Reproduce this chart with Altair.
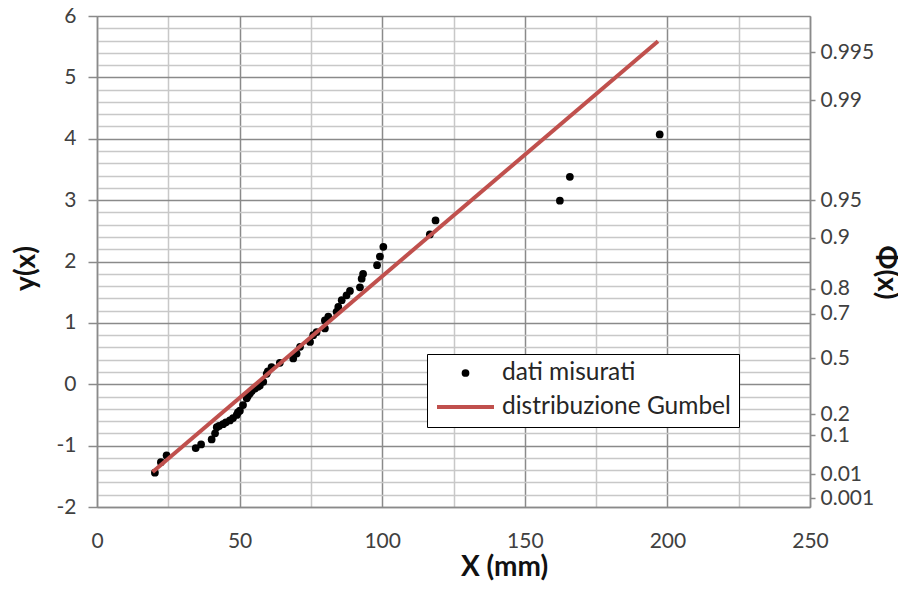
import altair as alt
import pandas as pd

# ---- data ----
x_mis = [20.3, 22.4, 24.4, 34.6, 36.5, 40.2, 41.4, 42.0, 42.8, 44.2, 45.2, 46.6, 47.7, 49.0,
         49.4, 50.1, 51.2, 52.5, 52.9, 53.6, 54.3, 55.4, 56.4, 57.1, 58.3, 59.5, 59.9, 61.2,
         64.1, 68.8, 70.0, 71.2, 74.7, 75.8, 77.0, 79.9, 79.9, 81.1, 84.0, 84.6, 85.8, 87.5,
         88.7, 92.2, 92.8, 93.3, 98.2, 99.2, 100.4, 116.7, 118.7, 162.3, 165.8, 197.3]
y_mis = [-1.44, -1.27, -1.16, -1.04, -0.98, -0.90, -0.80, -0.70, -0.68, -0.65, -0.62, -0.59,
         -0.55, -0.50, -0.46, -0.43, -0.34, -0.23, -0.19, -0.15, -0.11, -0.07, -0.04, -0.02,
         0.04, 0.17, 0.21, 0.28, 0.35, 0.42, 0.50, 0.61, 0.69, 0.80, 0.85, 0.91, 1.04, 1.10,
         1.18, 1.26, 1.37, 1.45, 1.52, 1.58, 1.72, 1.80, 1.94, 2.08, 2.24, 2.44, 2.67, 2.99,
         3.38, 4.07]

x_gum = [19.5, 196.7]
y_gum = [-1.43, 5.59]

series = ["dati misurati", "distribuzione Gumbel"]
series_colors = ["#000000", "#C0504D"]

x_ticks = [0, 25, 50, 75, 100, 125, 150, 175, 200, 225, 250]
y_ticks = [round(-2 + 0.2 * i, 1) for i in range(41)]

phi_labels = ["0.995", "0.99", "0.95", "0.9", "0.8", "0.7", "0.5", "0.2", "0.1", "0.01", "0.001"]
phi_pos = [5.41, 4.63, 3.00, 2.39, 1.56, 1.15, 0.42, -0.49, -0.83, -1.47, -1.86]

# ---- tables ----
df_pts = pd.DataFrame({"x": x_mis, "y": y_mis, "serie": series[0]})
df_line = pd.DataFrame({"x": x_gum, "y": y_gum, "serie": series[1]})

FONT = "Lato"
MAJOR = "#8a8a8a"
MINOR = "#c8c8c8"
LABEL = "#404040"
TITLE = "#111111"

is_int_y = "abs(datum.value - round(datum.value)) < 0.001"
is_major_x = "datum.value % 50 == 0"

x_axis = alt.Axis(
    values=x_ticks,
    labelExpr=f"{is_major_x} ? datum.label : ''",
    labelFlush=False,
    labelOverlap=False,
    grid=True,
    gridColor={"condition": {"test": is_major_x, "value": MAJOR}, "value": MINOR},
    gridWidth=1.5,
    ticks=False,
    tickSize=0,
    domainColor=MAJOR,
    domainWidth=1.5,
    labelFont=FONT, labelFontSize=21, labelColor=LABEL, labelPadding=23,
    title="X (mm)", titleFont=FONT, titleFontSize=28, titleFontWeight="bold", titleColor=TITLE,
    titleX=407, titleY=68, titleBaseline="alphabetic",
)

y_left = alt.Axis(
    values=y_ticks,
    labelExpr=f"{is_int_y} ? toString(round(datum.value)) : ''",
    labelOverlap=False,
    grid=True,
    gridColor={"condition": {"test": is_int_y, "value": MAJOR}, "value": MINOR},
    gridWidth=1.5,
    tickColor={"condition": {"test": is_int_y, "value": MAJOR}, "value": "transparent"},
    tickSize=9, tickWidth=1.5,
    domainColor=MAJOR, domainWidth=1.5,
    labelFont=FONT, labelFontSize=21, labelColor=LABEL, labelPadding=12,
    title="y(x)", titleFont=FONT, titleFontSize=28, titleFontWeight="bold", titleColor=TITLE,
    titleX=-71, titleY=252, titleAngle=270, titleBaseline="middle",
)

phi_expr = " : ".join(f"datum.value == {p} ? '{l}'" for p, l in zip(phi_pos, phi_labels)) + " : ''"
y_right = alt.Axis(
    orient="right",
    values=phi_pos,
    labelExpr=phi_expr,
    labelOverlap=False,
    grid=False,
    tickColor=MAJOR, tickSize=5, tickWidth=1.5,
    domainColor=MAJOR, domainWidth=1.5,
    labelFont=FONT, labelFontSize=21, labelColor=LABEL, labelPadding=5,
    title="Φ(x)", titleFont=FONT, titleFontSize=28, titleFontWeight="bold", titleColor=TITLE,
    titleX=75, titleY=256, titleAngle=90, titleBaseline="middle",
)

legend = alt.Legend(
    title=None, orient="none", legendX=330, legendY=338,
    strokeColor="#000000", fillColor="#ffffff", padding=8,
    labelFont=FONT, labelFontSize=24.5, labelColor="#262626", labelOffset=6, labelLimit=400,
    rowPadding=9, clipHeight=22,
)

xs = alt.Scale(domain=[0, 250], nice=False, zero=False)
ys = alt.Scale(domain=[-2, 6], nice=False, zero=False)

color = alt.Color("serie:N", scale=alt.Scale(domain=series, range=series_colors), legend=legend)
shape = alt.Shape("serie:N", scale=alt.Scale(domain=series, range=["circle", "stroke"]), legend=legend)
size = alt.Size("serie:N", scale=alt.Scale(domain=series, range=[60, 3249]), legend=legend)
swidth = alt.StrokeWidth("serie:N", scale=alt.Scale(domain=series, range=[0, 4]), legend=legend)

points = alt.Chart(df_pts).mark_point(filled=True, opacity=1).encode(
    x=alt.X("x:Q", scale=xs, axis=x_axis),
    y=alt.Y("y:Q", scale=ys, axis=y_left),
    color=color, shape=shape, size=size,
)

line = alt.Chart(df_line).mark_line(strokeCap="butt").encode(
    x=alt.X("x:Q", scale=xs, axis=x_axis),
    y=alt.Y("y:Q", scale=ys, axis=y_right),
    color=color, strokeWidth=swidth,
)

chart = alt.layer(points, line).resolve_axis(y="independent").properties(
    width=713, height=491,
    autosize=alt.AutoSizeParams(type="none"),
    padding={"left": 89, "top": 8, "right": 88, "bottom": 74},
    background="#ffffff",
).configure_view(stroke=None).configure(font=FONT)

chart.save("out.html", embed_options={"renderer": "svg", "actions": False})
